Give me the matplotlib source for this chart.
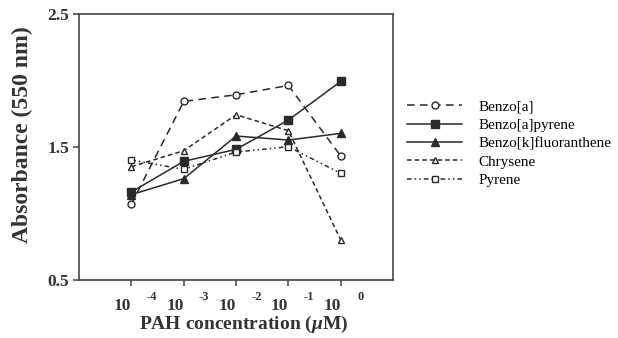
import matplotlib
matplotlib.use("Agg")
import matplotlib.pyplot as plt
import matplotlib.transforms as mtrans

categories = ["-4", "-3", "-2", "-1", "0"]
benzo_a = [1.07, 1.84, 1.89, 1.96, 1.43]
benzo_a_pyrene = [1.16, 1.39, 1.48, 1.70, 1.99]
benzo_k_fluor = [1.14, 1.26, 1.58, 1.55, 1.60]
chrysene = [1.35, 1.47, 1.74, 1.62, 0.80]
pyrene = [1.40, 1.33, 1.46, 1.50, 1.30]
yticks = [0.5, 1.5, 2.5]

serif = ["Liberation Serif", "DejaVu Serif"]
plt.rcParams["font.family"] = serif
plt.rcParams["mathtext.fontset"] = "custom"
plt.rcParams["mathtext.it"] = "Liberation Serif:italic:bold"
plt.rcParams["mathtext.rm"] = "Liberation Serif:bold"
ink = "#2a2a2a"
txt = "#333333"

fig = plt.figure(figsize=(6.18, 3.38), dpi=100)
ax = fig.add_axes([0.128, 0.172, 0.508, 0.788])
x = list(range(len(categories)))

ms = 5
ax.plot(x, benzo_a, color=ink, lw=1.1, ls=(0, (5, 3.5)), marker="o", ms=ms,
        mfc="white", mec=ink, mew=1.0, label="Benzo[a]")
ax.plot(x, benzo_a_pyrene, color=ink, lw=1.1, ls="-", marker="s", ms=ms + 0.5,
        mfc=ink, mec=ink, label="Benzo[a]pyrene")
ax.plot(x, benzo_k_fluor, color=ink, lw=1.1, ls="-", marker="^", ms=ms + 0.5,
        mfc=ink, mec=ink, label="Benzo[k]fluoranthene")
ax.plot(x, chrysene, color=ink, lw=1.1, ls=(0, (3, 2)), marker="^", ms=ms,
        mfc="white", mec=ink, mew=1.0, label="Chrysene")
ax.plot(x, pyrene, color=ink, lw=1.1, ls=(0, (3, 2, 1, 2, 1, 2)), marker="s", ms=ms,
        mfc="white", mec=ink, mew=1.0, label="Pyrene")

ax.set_xlim(-1, 5)
ax.set_ylim(0.5, 2.5)
ax.set_yticks(yticks)
ax.set_yticklabels([f"{v:.1f}" for v in yticks], fontsize=12.5, fontweight="bold", color=txt)
ax.set_xticks(x)
ax.set_xticklabels(["10"] * len(x), fontsize=12.5, fontweight="bold", color=txt)
for lab in ax.get_xticklabels():
    lab.set_horizontalalignment("right")
    lab.set_transform(lab.get_transform() + mtrans.ScaledTranslation(1.5 / 72, 0, fig.dpi_scale_trans))
for xi, c in zip(x, categories):
    ax.annotate(c, xy=(xi, 0), xycoords=("data", "axes fraction"),
                xytext=(14.6, -12), textcoords="offset points", ha="center", va="center",
                fontsize=9, fontweight="bold", color=txt)

for sp in ax.spines.values():
    sp.set_linewidth(1.2)
    sp.set_color("#444")
ax.tick_params(direction="out", length=4, width=1.1, color="#444")
ax.tick_params(axis="x", pad=9)
ax.tick_params(axis="y", pad=3)

ax.set_xlabel("PAH concentration ($\\mathit{\\mu}$M)", fontsize=14, fontweight="bold", color=txt)
ax.xaxis.set_label_coords(0.525, -0.128)
ax.set_ylabel("Absorbance (550 nm)", fontsize=17, fontweight="bold", color=txt)
ax.yaxis.set_label_coords(-0.146, 0.546)

fig.legend(loc="upper left", bbox_to_anchor=(0.637, 0.745), frameon=False,
           handlelength=3.6, handletextpad=1.1, labelspacing=0.32,
           prop={"family": serif, "size": 10.9})

fig.savefig("out.png", dpi=100)
